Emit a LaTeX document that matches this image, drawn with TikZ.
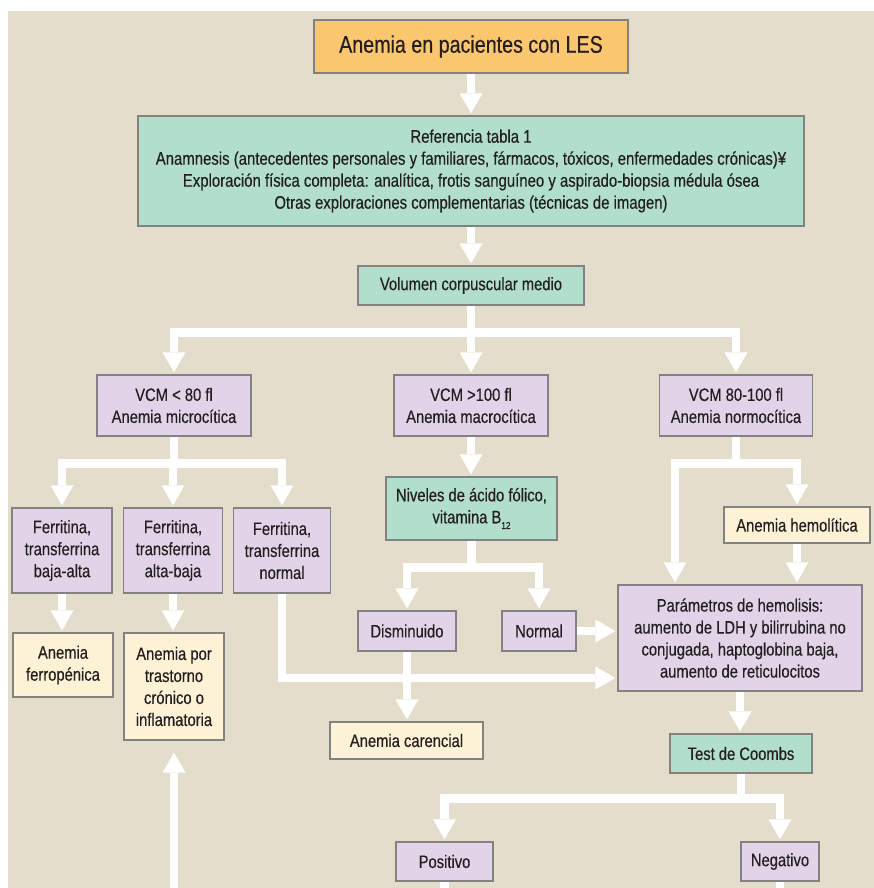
\documentclass[tikz,border=0pt]{standalone}
\usepackage{fontspec}
\setmainfont{Liberation Sans}[FakeStretch=0.82,FakeBold=0.4]
\usetikzlibrary{arrows.meta}
\definecolor{fondo}{RGB}{228,221,203}
\definecolor{naranja}{RGB}{250,198,110}
\definecolor{verde}{RGB}{178,222,204}
\definecolor{lila}{RGB}{227,211,232}
\definecolor{crema}{RGB}{253,241,214}
\definecolor{borde}{RGB}{130,130,130}
\definecolor{texto}{RGB}{35,31,32}
\begin{document}
\begin{tikzpicture}[x=1pt,y=-1pt,
	caja/.style={draw=borde,line width=1.4pt,align=center,text=texto,inner sep=0pt,
		font=\fontsize{18}{22}\selectfont},
	flecha/.style={draw=white,line width=8.5pt,line join=miter,shorten >=2pt,
		-{Triangle[width=23pt,length=20pt,line width=0pt]}},
	linea/.style={draw=white,line width=8.5pt,line join=miter}]

% Fondo
	\useasboundingbox (0,0) rectangle (874,888);
	\fill[fondo] (8,11) rectangle (874,888);

% Cajas
	\node[caja,fill=naranja,minimum width=314pt,minimum height=53pt,font=\fontsize{24}{28}\selectfont]
		(inicio) at (471,46.5) {Anemia en pacientes con LES};
	\node[caja,fill=verde,minimum width=666pt,minimum height=110pt,font=\fontsize{18.2}{22}\selectfont]
		(ref) at (471,171) {Referencia tabla 1\\
		Anamnesis (antecedentes personales y familiares, fármacos, tóxicos, enfermedades crónicas)¥\\
		Exploración física completa: analítica, frotis sanguíneo y aspirado-biopsia médula ósea\\
		Otras exploraciones complementarias (técnicas de imagen)};
	\node[caja,fill=verde,minimum width=226pt,minimum height=39pt] (vcm) at (471,285.5) {Volumen corpuscular medio};

	\node[caja,fill=lila,minimum width=154pt,minimum height=61pt] (micro) at (174,405.5) {VCM < 80 fl\\Anemia microcítica};
	\node[caja,fill=lila,minimum width=154pt,minimum height=61pt] (macro) at (471,405.5) {VCM >100 fl\\Anemia macrocítica};
	\node[caja,fill=lila,minimum width=153pt,minimum height=61pt] (normo) at (736,405.5) {VCM 80-100 fl\\Anemia normocítica};

	\node[caja,fill=lila,minimum width=100pt,minimum height=85pt] (ferr1) at (62,550.5) {Ferritina,\\transferrina\\baja-alta};
	\node[caja,fill=lila,minimum width=99pt,minimum height=85pt] (ferr2) at (173,550.5) {Ferritina,\\transferrina\\alta-baja};
	\node[caja,fill=lila,minimum width=97pt,minimum height=85pt] (ferr3) at (282,550.5) {Ferritina,\\transferrina\\normal};
	\node[caja,fill=crema,minimum width=100pt,minimum height=64pt] (ferro) at (63,665) {Anemia\\ferropénica};
	\node[caja,fill=crema,minimum width=100pt,minimum height=107pt] (cronica) at (174,686.5) {Anemia por\\trastorno\\crónico o\\inflamatoria};

	\node[caja,fill=verde,minimum width=171pt,minimum height=63pt] (niveles) at (471.5,508.5)
		{Niveles de ácido fólico,\\vitamina B\raisebox{-0.6ex}{\fontsize{10}{10}\selectfont 12}};
	\node[caja,fill=lila,minimum width=98pt,minimum height=40pt] (dismin) at (407,631) {Disminuido};
	\node[caja,fill=lila,minimum width=74pt,minimum height=40pt] (normal) at (539,631) {Normal};
	\node[caja,fill=crema,minimum width=153pt,minimum height=37pt] (carencial) at (406.5,740.5) {Anemia carencial};

	\node[caja,fill=crema,minimum width=146pt,minimum height=36pt] (hemol) at (797,525) {Anemia hemolítica};
	\node[caja,fill=lila,minimum width=244pt,minimum height=106pt] (param) at (740,638) {Parámetros de hemolisis:\\
		aumento de LDH y bilirrubina no\\conjugada, haptoglobina baja,\\aumento de reticulocitos};
	\node[caja,fill=verde,minimum width=142pt,minimum height=39pt] (coombs) at (741,753.5) {Test de Coombs};
	\node[caja,fill=lila,minimum width=97pt,minimum height=39pt] (positivo) at (444.5,861.5) {Positivo};
	\node[caja,fill=lila,minimum width=78pt,minimum height=39pt] (negativo) at (780,861.5) {Negativo};

% Flechas
	\draw[flecha] (inicio) -- (ref);
	\draw[flecha] (ref) -- (vcm);
	\draw[linea] (vcm.south) -- ++(0,27) coordinate (b1);
	\draw[flecha] (b1) -| (micro);
	\draw[flecha] (b1) -| (normo);
	\draw[flecha] (vcm) -- (macro);

	\draw[linea] (micro.south) -- ++(0,27) coordinate (b2);
	\foreach \n in {ferr1, ferr2, ferr3}
		\draw[flecha] (b2) -| (\n);
	\draw[flecha] (ferr1.south) -- (ferr1.south |- ferro.north);
	\draw[flecha] (ferr2.south) -- (ferr2.south |- cronica.north);
	\draw[flecha] (ferr3.south) |- ([yshift=-40pt]param.west);

	\draw[flecha] (macro.south) -- (macro.south |- niveles.north);
	\draw[linea] (niveles.south) -- ++(0,27) coordinate (b3);
	\foreach \n in {dismin, normal}
		\draw[flecha] (b3) -| (\n);
	\draw[flecha] (dismin.south) -- (dismin.south |- carencial.north);
	\draw[flecha] (normal.east) -- (normal.east -| param.west);

	\draw[linea] (normo.south) -- ++(0,27) coordinate (b4);
	\draw[flecha] (b4) -| ([xshift=-65pt]param.north);
	\draw[flecha] (b4) -| (hemol);
	\draw[flecha] (hemol.south) -- (hemol.south |- param.north);
	\draw[flecha] (param.south) -- (param.south |- coombs.north);

	\draw[linea] (coombs.south) -- ++(0,25) coordinate (b5);
	\foreach \n in {positivo, negativo}
		\draw[flecha] (b5) -| (\n);

% Salidas por el borde inferior
	\coordinate (s1) at (444.5,888);
	\coordinate (s2) at (780,888);
	\coordinate (s3) at (174,888);
	\draw[linea] (positivo.south) -- (s1);
	\draw[linea] (negativo.south) -- (s2);
	\draw[flecha,shorten >=12pt] (s3) -- (s3 |- cronica.south);

\end{tikzpicture}
\end{document}
